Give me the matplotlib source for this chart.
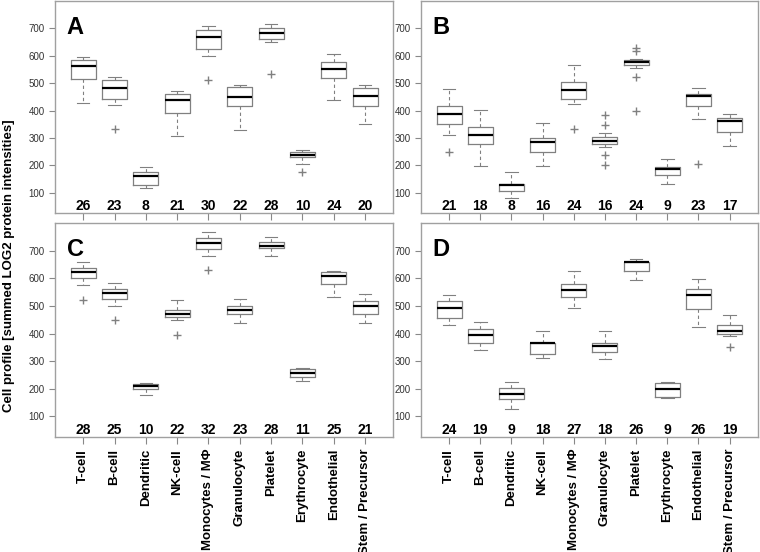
import matplotlib
matplotlib.use("Agg")
import matplotlib.pyplot as plt

plt.rcParams["font.family"] = ["Liberation Sans", "DejaVu Sans"]

CELL_TYPES = ["T-cell", "B-cell", "Dendritic", "NK-cell", "Monocytes / MΦ",
              "Granulocyte", "Platelet", "Erythrocyte", "Endothelial", "Stem / Precursor"]
Y_TICKS = [100, 200, 300, 400, 500, 600, 700]
Y_LABEL = "Cell profile [summed LOG2 protein intensities]"

# Panel A: whisker top, Q3, median, Q1, whisker bottom, outliers, n
A_HI = [597, 522, 195, 471, 708, 494, 718, 254, 605, 495]
A_Q3 = [586, 513, 176, 460, 696, 485, 701, 248, 579, 483]
A_MED = [564, 484, 162, 438, 667, 450, 682, 238, 553, 452]
A_Q1 = [517, 441, 128, 390, 624, 416, 660, 229, 518, 416]
A_LO = [428, 421, 118, 307, 599, 330, 650, 205, 439, 351]
A_OUT = [[], [334], [], [], [511], [], [534], [175], [], []]
A_N = [26, 23, 8, 21, 30, 22, 28, 10, 24, 20]

# Panel B
B_HI = [479, 402, 174, 353, 568, 316, 588, 224, 481, 387]
B_Q3 = [415, 338, 133, 301, 504, 304, 584, 195, 462, 373]
B_MED = [389, 311, 129, 284, 476, 290, 577, 185, 452, 361]
B_Q1 = [352, 277, 104, 249, 441, 278, 566, 163, 415, 323]
B_LO = [309, 197, 81, 197, 424, 266, 556, 133, 370, 272]
B_OUT = [[249], [], [], [], [333], [384, 346, 237, 202], [630, 618, 522, 399], [], [205], []]
B_N = [21, 18, 8, 16, 24, 16, 24, 9, 23, 17]

# Panel C
C_HI = [659, 584, 220, 522, 768, 524, 748, 276, 628, 542]
C_Q3 = [637, 561, 218, 484, 745, 498, 730, 270, 624, 516]
C_MED = [622, 545, 209, 470, 727, 485, 718, 256, 608, 500]
C_Q1 = [601, 524, 200, 460, 706, 471, 708, 242, 581, 472]
C_LO = [575, 500, 176, 449, 682, 439, 679, 227, 532, 437]
C_OUT = [[523], [448], [], [396], [630], [], [], [], [], []]
C_N = [28, 25, 10, 22, 32, 23, 28, 11, 25, 21]

# Panel D
D_HI = [540, 440, 223, 410, 627, 411, 668, 226, 596, 468]
D_Q3 = [518, 417, 203, 365, 581, 367, 660, 220, 561, 432]
D_MED = [494, 394, 181, 365, 557, 355, 658, 199, 538, 409]
D_Q1 = [455, 365, 164, 327, 533, 333, 626, 172, 490, 399]
D_LO = [432, 342, 128, 313, 492, 308, 593, 165, 422, 390]
D_OUT = [[], [], [], [], [], [], [], [], [], [351]]
D_N = [24, 19, 9, 18, 27, 18, 26, 9, 26, 19]

GREY = "#808080"


def draw_panel(ax, letter, hi, q3, med, q1, lo, out, counts, show_labels):
    stats = []
    for i in range(len(CELL_TYPES)):
        stats.append(dict(whishi=hi[i], q3=q3[i], med=med[i], q1=q1[i],
                          whislo=lo[i], fliers=out[i]))
    positions = list(range(1, len(CELL_TYPES) + 1))
    ax.bxp(
        stats,
        positions=positions,
        widths=0.8,
        capwidths=0.4,
        boxprops=dict(color=GREY, linewidth=0.9),
        medianprops=dict(color="black", linewidth=1.6),
        whiskerprops=dict(color=GREY, linewidth=0.8, linestyle=(0, (3, 2.5))),
        capprops=dict(color=GREY, linewidth=0.8),
        flierprops=dict(marker="+", markeredgecolor=GREY, markersize=6, linestyle="none"),
    )
    for pos, n in zip(positions, counts):
        ax.text(pos, 50, str(n), ha="center", va="center", fontsize=10, fontweight="bold")

    ax.text(0.035, 0.93, letter, transform=ax.transAxes, fontsize=17,
            fontweight="bold", va="top", ha="left")

    ax.set_xlim(0.1, 10.9)
    ax.set_ylim(25, 800)
    ax.set_yticks(Y_TICKS)
    ax.set_xticks(positions)
    if show_labels:
        ax.set_xticklabels(CELL_TYPES, rotation=90, fontsize=9.5, fontweight="bold")
    else:
        ax.set_xticklabels([])
    ax.tick_params(axis="y", colors="#888888", labelcolor="#333333", labelsize=7,
                   length=4, width=0.8)
    ax.tick_params(axis="x", colors="#888888", labelcolor="black", length=5, width=0.8)
    for spine in ax.spines.values():
        spine.set_color("#a0a0a0")
        spine.set_linewidth(1.0)


fig = plt.figure(figsize=(7.6, 5.52), dpi=100)
ax_a = fig.add_axes([0.0724, 0.614, 0.445, 0.384])
ax_b = fig.add_axes([0.554, 0.614, 0.443, 0.384])
ax_c = fig.add_axes([0.0724, 0.208, 0.445, 0.388])
ax_d = fig.add_axes([0.554, 0.208, 0.443, 0.388])

draw_panel(ax_a, "A", A_HI, A_Q3, A_MED, A_Q1, A_LO, A_OUT, A_N, False)
draw_panel(ax_b, "B", B_HI, B_Q3, B_MED, B_Q1, B_LO, B_OUT, B_N, False)
draw_panel(ax_c, "C", C_HI, C_Q3, C_MED, C_Q1, C_LO, C_OUT, C_N, True)
draw_panel(ax_d, "D", D_HI, D_Q3, D_MED, D_Q1, D_LO, D_OUT, D_N, True)

fig.text(0.012, 0.518, Y_LABEL, rotation=90, ha="center", va="center",
         fontsize=9.5, fontweight="bold")

fig.savefig("out.png", dpi=100)
plt.close(fig)
